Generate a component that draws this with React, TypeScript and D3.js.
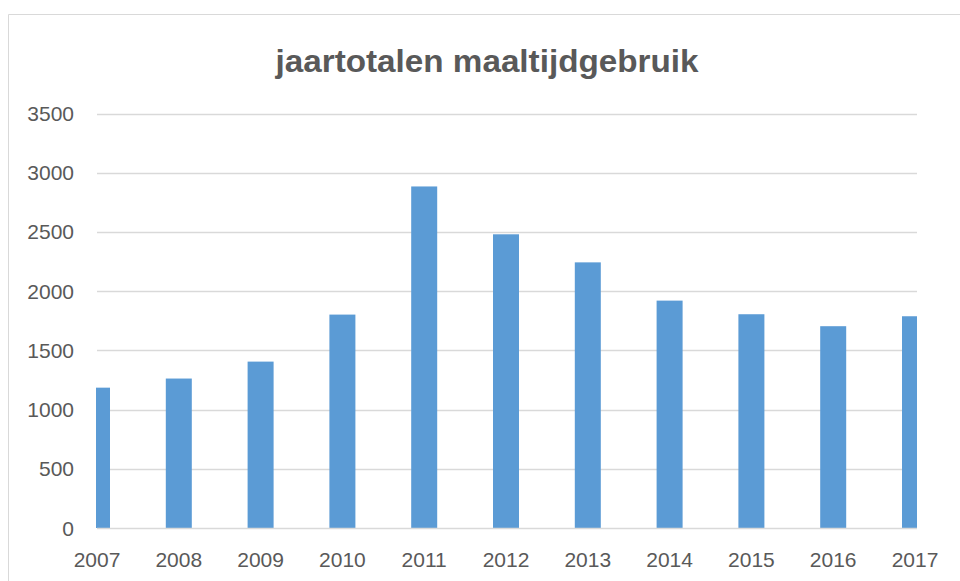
import React, { useEffect, useRef } from 'react';
import * as d3 from 'd3';

// jaartotalen per jaar
const years = ['2007', '2008', '2009', '2010', '2011', '2012', '2013', '2014', '2015', '2016', '2017'];
const totals = [1185, 1262, 1405, 1802, 2884, 2480, 2243, 1920, 1805, 1704, 1788];
const yTicks = [0, 500, 1000, 1500, 2000, 2500, 3000, 3500];
const title = 'jaartotalen maaltijdgebruik';

const W = 960;
const H = 581;

function App() {
  const ref = useRef<SVGSVGElement | null>(null);

  useEffect(() => {
    const svg = d3.select(ref.current);
    svg.selectAll('*').remove();

    const left = 97;
    const right = 917;
    const top = 113.5;
    const bottom = 528;

    const x = d3.scalePoint().domain(years).range([left, 915]);
    const y = d3.scaleLinear().domain([0, 3500]).range([bottom, top]);
    const font = '"Liberation Sans", Arial, sans-serif';
    const grey = '#595959';

    // chart frame (cropped on right/bottom)
    svg.append('path')
      .attr('d', `M8.5,${H} V14.5 H${W}`)
      .attr('fill', 'none')
      .attr('stroke', '#d9d9d9')
      .attr('stroke-width', 1);

    svg.append('text')
      .attr('x', 487)
      .attr('y', 72)
      .attr('text-anchor', 'middle')
      .attr('font-family', font)
      .attr('font-weight', 700)
      .attr('font-size', 32)
      .attr('textLength', 423)
      .attr('lengthAdjust', 'spacingAndGlyphs')
      .attr('fill', grey)
      .text(title);

    // gridlines
    svg.append('g')
      .selectAll('line')
      .data(yTicks.slice(1))
      .join('line')
      .attr('x1', left)
      .attr('x2', right)
      .attr('y1', d => Math.round(y(d)) + 0.5)
      .attr('y2', d => Math.round(y(d)) + 0.5)
      .attr('stroke', '#d9d9d9')
      .attr('stroke-width', 1.3);

    svg.append('defs')
      .append('clipPath')
      .attr('id', 'plot-clip')
      .append('rect')
      .attr('x', left - 1)
      .attr('y', 0)
      .attr('width', right - left + 1)
      .attr('height', H);

    const bw = 26;
    svg.append('g')
      .attr('clip-path', 'url(#plot-clip)')
      .selectAll('rect')
      .data(totals)
      .join('rect')
      .attr('x', (d, i) => (x(years[i]) as number) - bw / 2)
      .attr('y', d => y(d))
      .attr('width', bw)
      .attr('height', d => bottom - y(d))
      .attr('fill', '#5b9bd5');

    // category axis line
    svg.append('line')
      .attr('x1', left)
      .attr('x2', right)
      .attr('y1', bottom + 0.5)
      .attr('y2', bottom + 0.5)
      .attr('stroke', '#d9d9d9')
      .attr('stroke-width', 1.3);

    svg.append('g')
      .selectAll('text')
      .data(yTicks)
      .join('text')
      .attr('x', 74)
      .attr('y', d => y(d))
      .attr('dy', '0.36em')
      .attr('text-anchor', 'end')
      .attr('font-family', font)
      .attr('font-size', 21)
      .attr('fill', grey)
      .text(d => String(d));

    svg.append('g')
      .selectAll('text')
      .data(years)
      .join('text')
      .attr('x', d => x(d) as number)
      .attr('y', 567)
      .attr('text-anchor', 'middle')
      .attr('font-family', font)
      .attr('font-size', 21)
      .attr('fill', grey)
      .text(d => d);
  }, []);

  return (
    <svg
      ref={ref}
      width={W}
      height={H}
      style={{ position: 'absolute', left: 0, top: 0, background: '#fff', display: 'block' }}
    />
  );
}

export default App;
